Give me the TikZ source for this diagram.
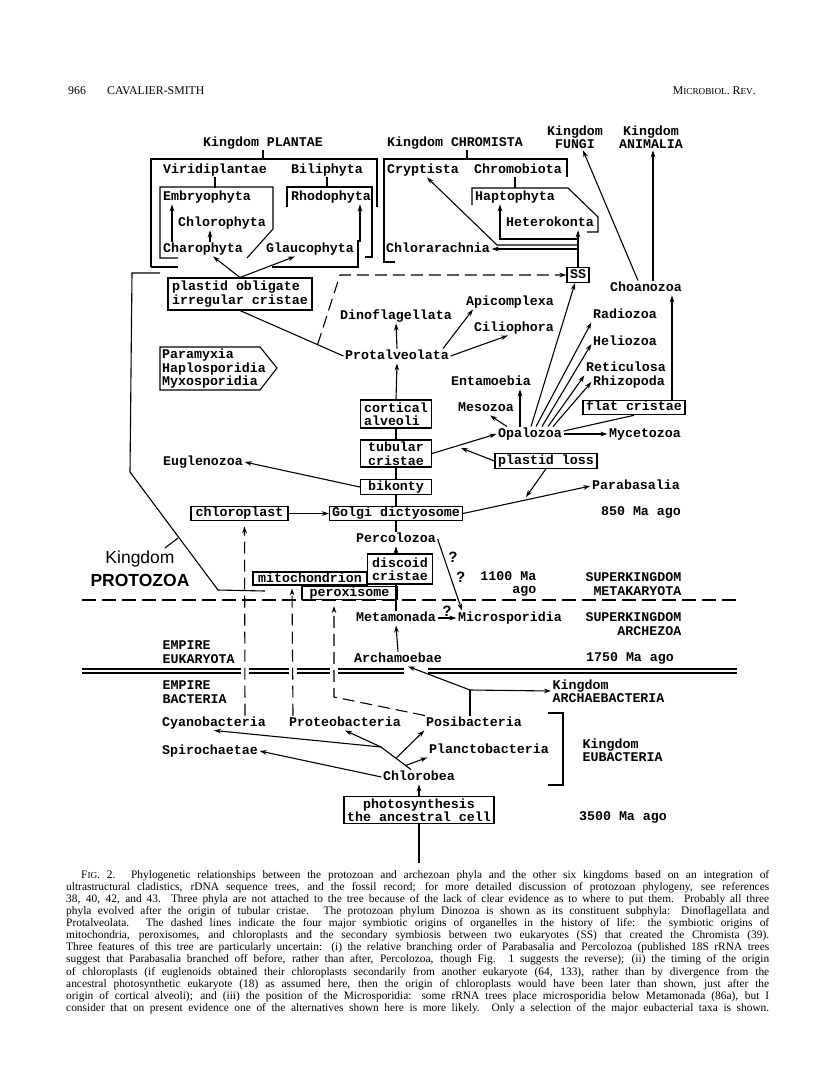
\documentclass[tikz,border=0pt]{standalone}
\usepackage{fontspec}
\setmainfont{Liberation Serif}
\newfontfamily\monofam{Liberation Mono}
\newfontfamily\sansfam{Liberation Sans}
\usetikzlibrary{positioning, arrows.meta, calc}

\newcommand{\taxfont}{\monofam\bfseries\fontsize{13.3}{13.5}\selectfont}
\newcommand{\headfont}{\fontsize{11.8}{13}\selectfont}
\newcommand{\smallcap}[1]{{\fontsize{9.2}{11}\selectfont #1}}
\newcommand{\capline}[1]{\makebox[703pt][s]{#1}}

\tikzset{
  taxon/.style={font=\taxfont, inner sep=1.5pt, text height=9pt, text depth=2.5pt},
  taxa/.style={font=\taxfont, inner sep=1.5pt, align=#1},
  taxa/.default=left,
  clade/.style={taxon, draw, line width=1.1pt},
  cladepair/.style={taxa, draw, line width=1.1pt},
  kframe/.style={line width=1.1pt},
  chain/.style={-{Stealth[length=7pt,width=4.6pt]}, line width=1.1pt},
  symbio/.style={chain, dash pattern=on 12pt off 6pt},
  eraline/.style={line width=1.1pt, dash pattern=on 14pt off 6pt},
  empire/.style={line width=1.1pt, double, double distance=2.9pt},
  query/.style={font=\sansfam\bfseries\fontsize{15}{15}\selectfont, inner sep=0pt}
}

\begin{document}
\begin{tikzpicture}[x=1pt, y=-1pt]
\useasboundingbox[fill=white] (0,0) rectangle (816,1088);

% running head
\node[anchor=base west, inner sep=0pt, font=\headfont] (folio) at (68,94) {966};
\node[anchor=base west, inner sep=0pt, font=\headfont] (author) at (107,94) {CAVALIER-SMITH};
\node[anchor=base east, inner sep=0pt, font=\headfont] (journal) at (756,94) {M\smallcap{ICROBIOL}. R\smallcap{EV}.};

% kingdoms at the top
\node[taxon] (kPlantae) at (263,143) {Kingdom PLANTAE};
\node[taxon] (kChrom) at (455,143) {Kingdom CHROMISTA};
\node[taxa=center] (kFungi) at (575,137) {Kingdom\\FUNGI};
\node[taxa=center] (kAnim) at (651,137) {Kingdom\\ANIMALIA};

% plantae
\node[taxon] (viridi) at (215,170) {Viridiplantae};
\node[taxon] (bili) at (327,170) {Biliphyta};
\node[taxon] (embryo) at (207,197) {Embryophyta};
\node[taxon] (rhodo) at (331,197) {Rhodophyta};
\node[taxon] (chloro) at (222,223) {Chlorophyta};
\node[taxon] (charo) at (203,249) {Charophyta};
\node[taxon] (glauco) at (310,249) {Glaucophyta};

% chromista
\node[taxon] (crypt) at (423,170) {Cryptista};
\node[taxon] (chromob) at (518,170) {Chromobiota};
\node[taxon] (hapto) at (515,197) {Haptophyta};
\node[taxon] (hetero) at (550,223) {Heterokonta};
\node[taxon] (chlorar) at (438,249) {Chlorarachnia};
\node[clade, minimum width=22pt, minimum height=15pt] (ss) at (578,275) {SS};

% protozoa
\node[cladepair, minimum width=144pt, minimum height=32pt] (obligate) at (240,294) {plastid obligate\\irregular cristae};
\node[taxon] (choano) at (646,288) {Choanozoa};
\node[taxon] (dino) at (396,316) {Dinoflagellata};
\node[taxon] (apico) at (510,302) {Apicomplexa};
\node[taxon] (cilio) at (514,328) {Ciliophora};
\node[taxon] (radio) at (625,315) {Radiozoa};
\node[taxon] (helio) at (625,342) {Heliozoa};
\node[taxon] (reticul) at (626,368) {Reticulosa};
\node[taxon] (rhizo) at (629,382) {Rhizopoda};
\node[taxon] (protalv) at (397,356) {Protalveolata};
\node[taxa] (orphans) at (214,369) {Paramyxia\\Haplosporidia\\Myxosporidia};
\node[taxon] (entamo) at (491,382) {Entamoebia};
\node[taxon] (mesozoa) at (486,408) {Mesozoa};
\node[cladepair, minimum width=71pt, minimum height=28pt] (cortical) at (396,414) {cortical\\alveoli};
\node[clade, minimum width=102pt] (flat) at (634,407.5) {flat cristae};
\node[taxon] (opalo) at (530,434) {Opalozoa};
\node[taxon] (myceto) at (645,434) {Mycetozoa};
\node[cladepair, minimum width=71pt, minimum height=27pt] (tubular) at (396,453.5) {tubular\\cristae};
\node[clade, minimum width=102pt] (plastidloss) at (546,461) {plastid loss};
\node[taxon] (eugleno) at (203,462) {Euglenozoa};
\node[clade, minimum width=71pt] (bikonty) at (396,487) {bikonty};
\node[taxon] (parabas) at (636,486) {Parabasalia};
\node[clade, minimum width=97pt] (chloroplast) at (239.5,513.5) {chloroplast};
\node[clade, minimum width=133pt] (golgi) at (396,513.5) {Golgi dictyosome};
\node[taxon] (ma850) at (641,512) {850 Ma ago};
\node[taxon] (percolo) at (396,539) {Percolozoa};
\node[cladepair, minimum width=65pt, minimum height=30pt] (discoid) at (400,569) {discoid\\cristae};
\node[clade, minimum width=114pt, text height=8.5pt, text depth=1.5pt] (mito) at (310,578.5) {mitochondrion};
\node[clade, minimum width=95pt, text height=8.5pt, text depth=1.5pt] (perox) at (349.5,593) {peroxisome};
\node[taxa=right, anchor=east] (ma1100) at (538,584) {1100 Ma\\ago};
\node[taxa=right, anchor=east] (superMeta) at (683,584) {SUPERKINGDOM\\METAKARYOTA};
\node[align=center, inner sep=0pt, font=\sansfam\fontsize{17.5}{23}\selectfont] (kProto) at (140,569) {Kingdom\\\textbf{PROTOZOA}};

% archezoa
\node[taxon] (metamon) at (396,618) {Metamonada};
\node[taxon] (microsp) at (510,618) {Microsporidia};
\node[taxa=right, anchor=east] (superArch) at (683,624) {SUPERKINGDOM\\ARCHEZOA};
\node[taxa, anchor=west] (empEuk) at (161,652) {EMPIRE\\EUKARYOTA};
\node[taxon] (archamo) at (398,659) {Archamoebae};
\node[taxon] (ma1750) at (630,658) {1750 Ma ago};

% bacteria
\node[taxa, anchor=west] (empBac) at (161,692) {EMPIRE\\BACTERIA};
\node[taxa, anchor=west] (kArchae) at (551,691) {Kingdom\\ARCHAEBACTERIA};
\node[taxon] (cyano) at (214,723) {Cyanobacteria};
\node[taxon] (proteo) at (345,723) {Proteobacteria};
\node[taxon] (posi) at (474,723) {Posibacteria};
\node[taxon] (spiro) at (210,751) {Spirochaetae};
\node[taxon] (plancto) at (489,750) {Planctobacteria};
\node[taxa, anchor=west] (kEubac) at (581,750) {Kingdom\\EUBACTERIA};
\node[taxon] (chlorob) at (419,777) {Chlorobea};
\node[cladepair, align=center, minimum width=150pt, minimum height=26pt] (photo) at (419,810) {photosynthesis\\the ancestral cell};
\node[taxon] (ma3500) at (623,817) {3500 Ma ago};

% frames of the kingdoms
\draw[kframe] (kPlantae.south) -- ++(0,9);
\draw[kframe] (151,267) -- (151,159) -- (377,159) -- (377,207);
\draw[kframe] (151,267) -- (178,267);
\draw[kframe] (272,267) -- (358,267) -- (358,240);
\draw[kframe] (viridi.south) -- ++(0,11);
\draw[kframe] (178,258) -- (160,258) -- (160,187) -- (273,187) -- (273,229) -- (247,258);
\draw[kframe] (bili.south) -- ++(0,11);
\draw[kframe] (287,207) -- (287,187) -- (372,187) -- (372,257) -- (365,257);
\draw[kframe] ([xshift=12pt]kChrom.south) -- ++(0,9);
\draw[kframe] (395,262) -- (384,262) -- (384,159) -- (567,159) -- (567,177);
\draw[kframe] ([xshift=-3pt]chromob.south) -- ++(0,11);
\draw[kframe] (472,205) -- (472,188) -- (568,188) -- (598,217) -- (598,232) -- (587,232);
\draw[kframe] (160,347) -- (260,347) -- (277,368) -- (260,390) -- (160,390) -- cycle;
\draw[kframe] (160,273) -- (132,273) -- (130,472) -- (218,590) -- (265,591);
\draw[kframe] (165,548) -- (178,538);
\draw[kframe] (548,713) -- (563,713) -- (563,785) -- (548,785);

% time lines
\draw[eraline] (82,600) -- (737,600);
\foreach \a/\b in {82/241, 249/289, 297/330, 338/404, 428/737}
  \draw[empire] (\a,671) -- (\b,671);

% plantae and chromista
\draw[chain] ([xshift=-31pt]charo.north) -- ([xshift=-35pt]embryo.south);
\draw[chain] ([xshift=7pt]charo.north) -- ([xshift=-12pt]chloro.south);
\draw[chain] ([xshift=50pt]glauco.north) -- ([xshift=29pt]rhodo.south);
\draw[chain] (obligate.north) -- ([xshift=10pt]charo.south);
\draw[chain] (obligate.north) -- ([xshift=-15pt]glauco.south);
\coordinate (hapBend) at (500,239);
\coordinate (cryBend) at (497,245);
\draw[chain] (ss.north) -- ([xshift=28pt]hetero.south);
\draw[chain] (ss.north |- hapBend) -- (hapBend) -- (hapto.south -| hapBend);
\draw[chain] (ss.north |- cryBend) -- (cryBend) -- ([xshift=4pt]crypt.south);
\draw[chain] (ss.north |- chlorar.east) -- (chlorar.east);
\draw[chain] ([xshift=-8pt]choano.north) -- ([xshift=8pt]kFungi.south);
\draw[chain] ([xshift=7pt]choano.north) -- ([xshift=2pt]kAnim.south);

% alveolates and the trunk
\coordinate (dashFoot) at ($(obligate.south)!0.75!(protalv.west)$);
\coordinate (dashBend) at (340,275);
\draw[kframe] (obligate.south) -- (protalv.west);
\draw[symbio] (dashFoot) -- (dashBend) -- (ss.west);
\draw[chain] (protalv.north) -- (dino.south);
\draw[chain] ([xshift=46pt]protalv.north) -- ([xshift=-37pt]apico.south);
\draw[chain] (protalv.east) -- ([xshift=-6pt]cilio.south);
\draw[chain] (cortical.north) -- (protalv.south);
\draw[kframe] (tubular.north) -- (cortical.south);
\draw[kframe] (bikonty.north) -- (tubular.south);
\draw[kframe] (golgi.north) -- (bikonty.south);
\draw[kframe] (percolo.north) -- (golgi.south);
\draw[chain] (discoid.north -| percolo.south) -- (percolo.south);
\draw[chain] (bikonty.west) -- (eugleno.east);
\draw[chain] (chloroplast.east) -- (golgi.west);
\draw[chain] (golgi.east) -- (parabas.west);

% opalozoa
\coordinate (lossTip) at (461,448);
\coordinate (golgiTip) at (526,497);
\draw[chain] (tubular.east) -- (opalo.west);
\draw[chain] (plastidloss.west) -- (lossTip);
\draw[chain] (plastidloss.south) -- (golgiTip);
\draw[chain] ([xshift=-23pt]opalo.north) -- ([xshift=4pt]mesozoa.south);
\draw[chain] ([xshift=-10pt]opalo.north) -- ([xshift=29pt]entamo.south);
\draw[chain] ([xshift=1pt]opalo.north) -- ([xshift=-3pt]ss.south);
\draw[chain] ([xshift=6pt]opalo.north) -- (radio.south west);
\draw[chain] ([xshift=12pt]opalo.north) -- ([yshift=-2pt]helio.west);
\draw[chain] ([xshift=18pt]opalo.north) -- (reticul.south west);
\draw[chain] ([xshift=23pt]opalo.north) -- (rhizo.west);
\draw[chain] (opalo.east) -- (myceto.west);
\draw[kframe] ([yshift=3pt]opalo.east) -- (flat.south);
\draw[chain] ([xshift=38pt]flat.north) -- ([xshift=26pt]choano.south);

% archezoa
\draw[kframe] (metamon.north) -- (metamon.north |- discoid.south);
\draw[chain] (archamo.north) -- (metamon.south);
\draw[chain] (percolo.east) -- ([xshift=-48pt]microsp.north)
  node[query, pos=0.25, right=4pt] (q1) {?}
  node[query, pos=0.53, right=5pt] (q2) {?};
\draw[chain] (metamon.east) -- (microsp.west) node[query, midway, above=1pt] (q3) {?};

% symbiotic origins
\coordinate (peroxBend) at (334,697);
\draw[symbio, shorten >=5pt] ([xshift=31pt]cyano.north) -- ([xshift=5pt]chloroplast.south);
\draw[symbio, shorten >=3pt] ([xshift=-52pt]proteo.north) -- ([xshift=-18pt]mito.south);
\draw[symbio, shorten >=6pt] ([xshift=-49pt]posi.north) -- (peroxBend) -- (perox.south -| peroxBend);

% bacteria
\coordinate (archRoot) at (470,690);
\draw[kframe] ([xshift=-4pt]posi.north) -- (archRoot);
\draw[chain] (archRoot) -- ([xshift=10pt]archamo.south);
\draw[chain] (archRoot) -- (kArchae.west);
\coordinate (jTop) at (381,747);
\coordinate (jBot) at ([xshift=-8pt]chlorob.north);
\coordinate (jMid) at ($(jTop)!0.5!(jBot)$);
\coordinate (jLow) at ($(jTop)!0.82!(jBot)$);
\draw[kframe] (jTop) -- (jBot);
\draw[chain] (jTop) -- (cyano.south);
\draw[chain] (jTop) -- (proteo.south);
\draw[chain] (jMid) -- (posi.south west);
\draw[chain] (jLow) -- (plancto.south west);
\draw[chain] (chlorob.west) -- (spiro.east);
\draw[chain] (photo.north) -- (chlorob.south);
\coordinate (photoRoot) at (419,863);
\draw[kframe] (photoRoot) -- (photo.south);

% legend
\node[anchor=north west, inner sep=0pt, align=left, font=\fontsize{11.4}{12.1}\selectfont] (legend) at (66,870) {%
\hspace*{15pt}\makebox[688pt][s]{F\smallcap{IG}. 2. Phylogenetic relationships between the protozoan and archezoan phyla and the other six kingdoms based on an integration of}\\
\capline{ultrastructural cladistics, rDNA sequence trees, and the fossil record; for more detailed discussion of protozoan phylogeny, see references}\\
\capline{38, 40, 42, and 43. Three phyla are not attached to the tree because of the lack of clear evidence as to where to put them. Probably all three}\\
\capline{phyla evolved after the origin of tubular cristae. The protozoan phylum Dinozoa is shown as its constituent subphyla: Dinoflagellata and}\\
\capline{Protalveolata. The dashed lines indicate the four major symbiotic origins of organelles in the history of life: the symbiotic origins of}\\
\capline{mitochondria, peroxisomes, and chloroplasts and the secondary symbiosis between two eukaryotes (SS) that created the Chromista (39).}\\
\capline{Three features of this tree are particularly uncertain: (i) the relative branching order of Parabasalia and Percolozoa (published 18S rRNA trees}\\
\capline{suggest that Parabasalia branched off before, rather than after, Percolozoa, though Fig. 1 suggests the reverse); (ii) the timing of the origin}\\
\capline{of chloroplasts (if euglenoids obtained their chloroplasts secondarily from another eukaryote (64, 133), rather than by divergence from the}\\
\capline{ancestral photosynthetic eukaryote (18) as assumed here, then the origin of chloroplasts would have been later than shown, just after the}\\
\capline{origin of cortical alveoli); and (iii) the position of the Microsporidia: some rRNA trees place microsporidia below Metamonada (86a), but I}\\
\capline{consider that on present evidence one of the alternatives shown here is more likely. Only a selection of the major eubacterial taxa is shown.}};
\end{tikzpicture}
\end{document}
